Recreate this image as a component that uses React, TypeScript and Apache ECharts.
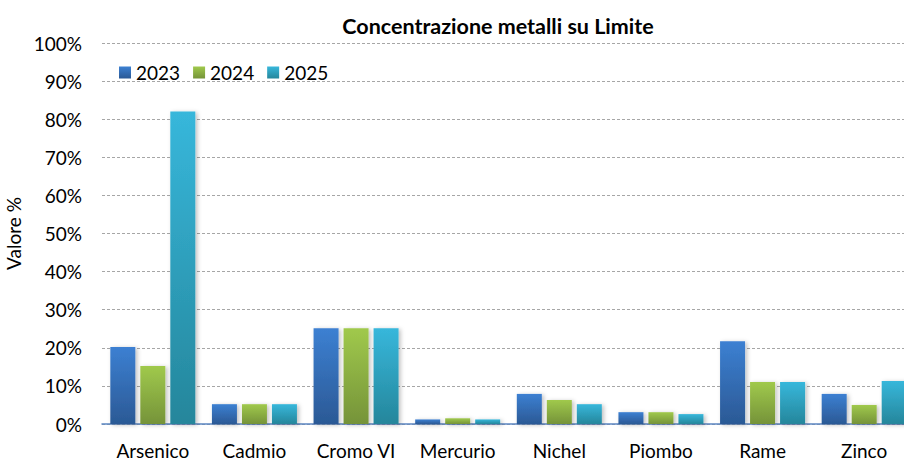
import React, { useEffect, useRef } from "react";
import * as echarts from "echarts";

const categories = ["Arsenico", "Cadmio", "Cromo VI", "Mercurio", "Nichel", "Piombo", "Rame", "Zinco"];
const years = ["2023", "2024", "2025"];
const values2023 = [20.2, 5.2, 25.1, 1.2, 7.9, 3.1, 21.7, 7.9];
const values2024 = [15.2, 5.2, 25.1, 1.5, 6.3, 3.1, 11.0, 5.0];
const values2025 = [82.0, 5.2, 25.1, 1.2, 5.2, 2.6, 11.0, 11.3];
const yTicks = [0, 10, 20, 30, 40, 50, 60, 70, 80, 90, 100];

const palette = [
  { top: "#3c80d2", bottom: "#2b5995" },
  { top: "#a0c94c", bottom: "#759339" },
  { top: "#37b7db", bottom: "#25869b" },
];

export default function App() {
  const ref = useRef<HTMLDivElement>(null);
  useEffect(() => {
    if (!ref.current) return;
    const chart = echarts.init(ref.current, null, { renderer: "svg" });
    const seriesData = [values2023, values2024, values2025];
    const font = "Lato, 'Open Sans', sans-serif";
    chart.setOption({
      animation: false,
      textStyle: { fontFamily: font },
      title: {
        text: "Concentrazione metalli su Limite",
        left: 493,
        textAlign: "center",
        top: 10,
        textStyle: { fontFamily: font, fontSize: 21.5, fontWeight: "bold", color: "#000" },
      },
      legend: {
        data: years,
        left: 114,
        top: 58,
        itemWidth: 12,
        itemHeight: 12,
        itemGap: 13,
        icon: "rect",
        textStyle: { fontFamily: font, fontSize: 19, color: "#000" },
      },
      grid: {
        left: 102,
        right: -11,
        top: 43,
        bottom: 37,
        containLabel: false,
        outerBoundsMode: "none",
      },
      xAxis: {
        type: "category",
        data: categories,
        axisLine: { lineStyle: { color: "#5b86c2", width: 1.5 } },
        axisTick: { show: false },
        axisLabel: { fontFamily: font, fontSize: 19, color: "#000", margin: 17, interval: 0 },
      },
      yAxis: {
        type: "value",
        min: yTicks[0],
        max: yTicks[yTicks.length - 1],
        interval: 10,
        name: "Valore %",
        nameLocation: "middle",
        nameGap: 76,
        nameRotate: 90,
        nameTextStyle: { fontFamily: font, fontSize: 19, color: "#000" },
        axisLine: { show: false },
        axisTick: { show: false },
        axisLabel: { fontFamily: font, fontSize: 19, color: "#000", margin: 20, formatter: "{value}%" },
        splitLine: { lineStyle: { color: "#a6a6a6", type: [3, 2], width: 1 } },
      },
      series: years.map((y, i) => ({
        name: y,
        type: "bar",
        data: seriesData[i],
        barWidth: 25,
        barGap: "20%",
        itemStyle: {
          color: new echarts.graphic.LinearGradient(0, 0, 0, 1, [
            { offset: 0, color: palette[i].top },
            { offset: 1, color: palette[i].bottom },
          ]),
          shadowColor: "rgba(0,0,0,0.25)",
          shadowBlur: 4,
          shadowOffsetX: 2,
          shadowOffsetY: 1,
        },
      })),
    });
    return () => chart.dispose();
  }, []);
  return (
    <div
      ref={ref}
      style={{ position: "fixed", left: 0, top: 0, width: 904, height: 461, background: "#fff" }}
    />
  );
}
